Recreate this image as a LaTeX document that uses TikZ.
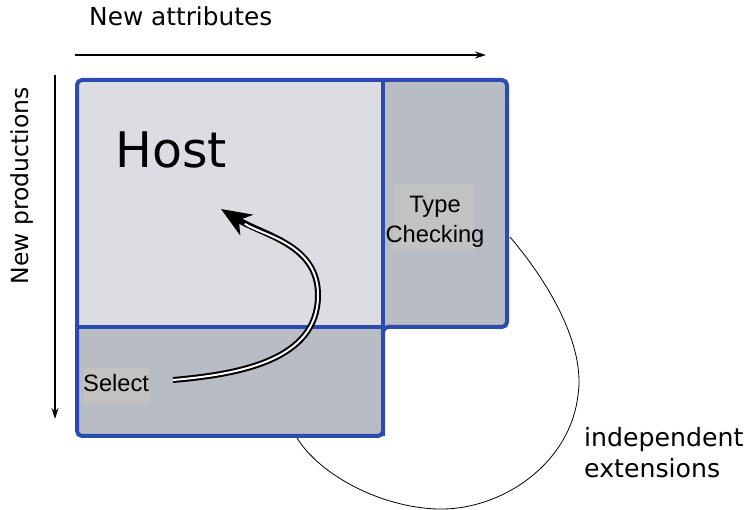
\documentclass[tikz,border=0pt]{standalone}
\usepackage{fontspec}
\setmainfont{DejaVu Sans}
\newfontfamily\arialfont{Liberation Sans}
\usetikzlibrary{arrows.meta}
\definecolor{hostfill}{HTML}{DCDDE2}
\definecolor{extfill}{HTML}{B8BCC5}
\definecolor{boxblue}{HTML}{2C4BAE}
\definecolor{labelbg}{HTML}{C2C2C2}
\tikzset{
  border/.style={draw=boxblue, line width=4pt},
  lbl/.style={font=\fontsize{23.7}{30}\selectfont\arialfont, inner sep=0pt, align=center},
  axistext/.style={inner sep=0pt},
  axisarrow/.style={line width=1.5pt, -{Stealth[length=11pt,width=7pt]}},
}
\begin{document}
\begin{tikzpicture}[x=1pt,y=-1pt]
\useasboundingbox (0,0) rectangle (748,510);
% regions
\fill[hostfill] (77,80) rectangle (383,327);
\fill[extfill] (383,80) rectangle (507,327);
\fill[extfill] (77,327) rectangle (383,436);
\node (host) at (230,203) [minimum width=306pt, minimum height=247pt, inner sep=0pt] {};
\node (tc) at (445,203) [minimum width=124pt, minimum height=247pt, inner sep=0pt] {};
\node (sel) at (230,381) [minimum width=306pt, minimum height=109pt, inner sep=0pt] {};
% borders
\draw[border, rounded corners=5pt] (77,80) -- (507,80) -- (507,327) -- (383,327) -- (383,436) -- (77,436) -- cycle;
\draw[border] (383,80) -- (383,436);
\draw[border] (77,327) -- (383,327);
% labels
\node[font=\fontsize{49}{55}\selectfont, inner sep=0pt] (hostlbl) at (171,150) {Host};
\fill[labelbg] (393,184) rectangle (475,251);
\fill[labelbg] (84,367) rectangle (149,403);
\node[lbl, anchor=base] (tclbl) at (435,243) {Type\\Checking};
\node[lbl, anchor=base west] (sellbl) at (83,392) {Select};
% axes
\coordinate (ax1) at (75,55);
\coordinate (ax2) at (486,55);
\draw[axisarrow] (ax1) -- (ax2);
\node[axistext, anchor=base west, font=\fontsize{24.8}{30}\selectfont] (attr) at (89,26) {New attributes};
\coordinate (ay1) at (55,75);
\coordinate (ay2) at (55,419);
\draw[axisarrow] (ay1) -- (ay2);
\node[axistext, rotate=90, font=\fontsize{23.5}{28}\selectfont] (prod) at (22,186) {New productions};
% double arrow
\coordinate (da1) at (173,380);
\coordinate (dam) at (318,295);
\coordinate (da2) at (221,209);
\draw[line width=6pt, -{Stealth[length=30pt,width=24pt,inset=9pt]}] (da1) to[out=5,in=-90] (dam) to[out=90,in=-32] (da2);
\draw[white, line width=2pt, shorten >=28pt] (da1) to[out=5,in=-90] (dam) to[out=90,in=-32] (da2);
% thin curve
\coordinate (c1) at (510,237);
\coordinate (c2) at (578,395);
\coordinate (c3) at (437,509);
\coordinate (c4) at (297,438);
\draw[line width=0.8pt] (c1) .. controls (555,290) and (585,350) .. (c2) .. controls (570,465) and (500,511) .. (c3) .. controls (380,507) and (320,475) .. (c4);
\node[axistext, anchor=base west, align=left, font=\fontsize{25.2}{31}\selectfont] (indep) at (584,478) {independent\\extensions};
\end{tikzpicture}
\end{document}
